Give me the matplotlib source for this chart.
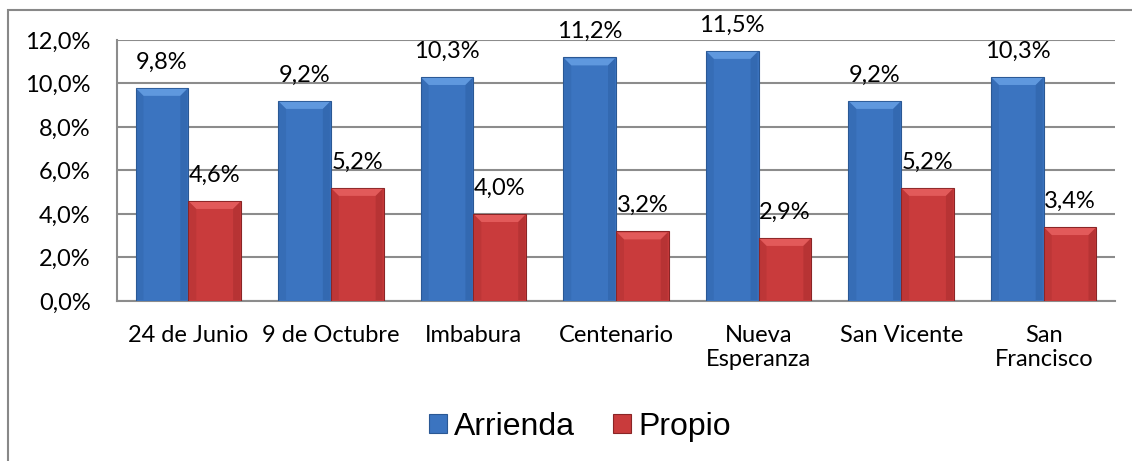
import matplotlib
matplotlib.use("Agg")
import matplotlib.pyplot as plt
import numpy as np
from matplotlib.patches import Rectangle, Polygon
from matplotlib.transforms import IdentityTransform

categories = ["24 de Junio", "9 de Octubre", "Imbabura", "Centenario",
              "Nueva\nEsperanza", "San Vicente", "San\nFrancisco"]
arrienda = [9.8, 9.2, 10.3, 11.2, 11.5, 9.2, 10.3]
propio = [4.6, 5.2, 4.0, 3.2, 2.9, 5.2, 3.4]
yticks = [0, 2, 4, 6, 8, 10, 12]
series_names = ["Arrienda", "Propio"]

blue = "#3B74C0"
blue_light = "#5F98DE"
blue_side = "#2E60A6"
blue_edge = "#2A5894"
red = "#C93B3C"
red_light = "#E25A5A"
red_side = "#A92E2F"
red_edge = "#8A2526"
font = "Lato"
fs = 17

fig = plt.figure(figsize=(11.32, 4.61), dpi=100)
fig.patches.append(Rectangle((8/1132, -0.1), 1.2, 1.1 - 10/461,
                             transform=fig.transFigure, fill=False,
                             edgecolor="#888888", linewidth=1.5))
ax = fig.add_axes([117/1132, 1-301/461, (1115-117)/1132, (301-40)/461])

x = np.arange(len(categories))
w = 0.37
b1 = ax.bar(x - w/2, arrienda, w, color=blue, edgecolor=blue_edge, linewidth=0.8,
            label=series_names[0], zorder=3)
b2 = ax.bar(x + w/2, propio, w, color=red, edgecolor=red_edge, linewidth=0.8,
            label=series_names[1], zorder=3)

def fmt(v):
    return f"{v:.1f}%".replace(".", ",")

for bars, vals in ((b1, arrienda), (b2, propio)):
    for b, v in zip(bars, vals):
        ax.annotate(fmt(v), (b.get_x() + b.get_width()/2, v),
                    xytext=(0, 18.5), textcoords="offset points",
                    ha="center", va="center", fontsize=fs, family=font,
                    annotation_clip=False, zorder=5)

ax.set_xlim(-0.5, len(categories) - 0.5)
ax.set_ylim(0, 12)
ax.set_yticks(yticks)
ax.set_yticklabels([fmt(v) for v in yticks], fontsize=fs, family=font)
ax.set_xticks(x)
ax.set_xticklabels(categories, fontsize=fs, family=font, linespacing=1.2)
ax.tick_params(axis="both", length=0)
ax.tick_params(axis="x", pad=17)
ax.tick_params(axis="y", pad=19)
ax.yaxis.grid(True, color="#8C8C8C", linewidth=1.5, zorder=0)
for s in ("top", "right"):
    ax.spines[s].set_visible(False)
for s in ("left", "bottom"):
    ax.spines[s].set_color("#8C8C8C")
    ax.spines[s].set_linewidth(1.5)

leg = fig.legend(handles=[b1, b2], labels=series_names, loc="center",
                 bbox_to_anchor=(580/1132, 1-427/461), ncol=2, frameon=False,
                 prop={"family": "Liberation Sans", "size": 23},
                 handlelength=0.56, handleheight=0.56, handletextpad=0.22,
                 columnspacing=1.2)

# bevel decoration derived from the drawn bar geometry
fig.canvas.draw()
d = 7
for bars, light, side in ((b1, blue_light, blue_side), (b2, red_light, red_side)):
    for b in bars:
        bb = b.get_window_extent()
        x0, y0, x1, y1 = bb.x0 + 1, bb.y0, bb.x1 - 1, bb.y1 - 1
        top = Polygon([(x0, y1), (x1, y1), (x1 - d, y1 - d), (x0 + d, y1 - d)],
                      closed=True, transform=IdentityTransform(),
                      facecolor=light, edgecolor="none", zorder=4)
        left = Polygon([(x0, y0 + 1), (x0, y1), (x0 + d, y1 - d), (x0 + d, y0 + 1)],
                       closed=True, transform=IdentityTransform(),
                       facecolor=side, edgecolor="none", alpha=0.35, zorder=4)
        right = Polygon([(x1, y0 + 1), (x1, y1), (x1 - d, y1 - d), (x1 - d, y0 + 1)],
                        closed=True, transform=IdentityTransform(),
                        facecolor=side, edgecolor="none", alpha=0.55, zorder=4)
        for p in (top, left, right):
            fig.artists.append(p)
            p.set_figure(fig)

fig.savefig("out.png", dpi=100)
